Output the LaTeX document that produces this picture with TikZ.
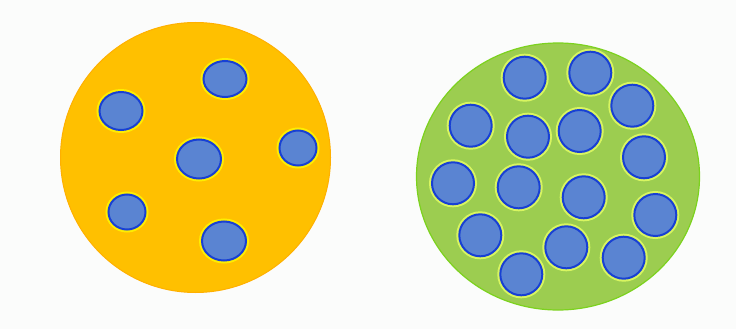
\documentclass[tikz,border=0pt]{standalone}
\usepackage{xcolor}
\definecolor{gold}{HTML}{FFC000}
\definecolor{goldedge}{HTML}{FFB000}
\definecolor{leaf}{HTML}{9CCD50}
\definecolor{leafedge}{HTML}{7CD21E}
\definecolor{cellblue}{HTML}{5A84D2}
\definecolor{celledge}{HTML}{1840D4}
\definecolor{halogold}{HTML}{FFEE00}
\definecolor{haloleaf}{HTML}{D8F560}
\definecolor{paper}{HTML}{FBFCFB}

\begin{document}
\begin{tikzpicture}[x=1pt, y=-1pt,
  cell/.style={fill=cellblue, draw=celledge, line width=2pt,
    preaction={draw=#1, line width=6pt}}]
  % background, fixes the margins
  \fill[paper] (0,0) rectangle (736,329);
  \useasboundingbox (0,0) rectangle (736,329);
  % left disc: few cells
  \draw[fill=gold, draw=goldedge, line width=1pt] (195.5,157.5) circle (135pt);
  \foreach \x/\y/\a/\b in {225/79/21.5/18, 121/111/21.5/19, 199/159/22/19.5,
                           298/148/18.5/17.5, 127/212/18.5/17.5, 224/241/22/19.5}
    \draw[cell=halogold] (\x,\y) ellipse (\a pt and \b pt);
  % right disc: packed cells
  \draw[fill=leaf, draw=leafedge, line width=1.2pt] (558,176.5) ellipse (141.5pt and 133.5pt);
  \foreach \x/\y in {524.7/77.7, 590.3/72.7, 632.3/105.7, 470.7/125.7, 528/136.7,
                     579.7/131, 644/157.3, 453/183.3, 518.7/187.3, 583.7/197.3,
                     655.3/215, 480.3/235.3, 566.3/247.3, 623.7/257.7, 521.3/274.3}
    \draw[cell=haloleaf] (\x,\y) circle (21pt);
\end{tikzpicture}
\end{document}
